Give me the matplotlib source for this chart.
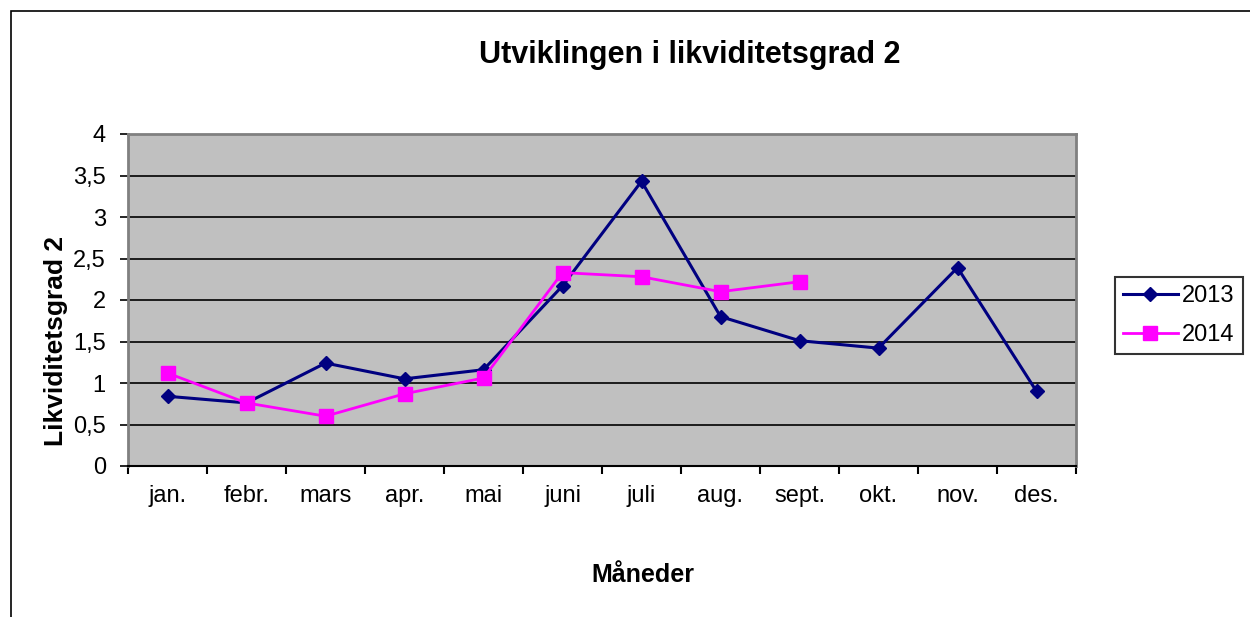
import matplotlib
matplotlib.use('Agg')
import matplotlib.pyplot as plt
from matplotlib.patches import Rectangle

plt.rcParams['font.family'] = ['Liberation Sans', 'DejaVu Sans']

months = ['jan.', 'febr.', 'mars', 'apr.', 'mai', 'juni', 'juli', 'aug.', 'sept.', 'okt.', 'nov.', 'des.']
v2013 = [0.84, 0.76, 1.24, 1.05, 1.16, 2.17, 3.43, 1.80, 1.51, 1.42, 2.39, 0.90]
v2014 = [1.12, 0.76, 0.60, 0.87, 1.06, 2.33, 2.28, 2.10, 2.22]
yticks = [0, 0.5, 1, 1.5, 2, 2.5, 3, 3.5, 4]
ylabels = ['0', '0,5', '1', '1,5', '2', '2,5', '3', '3,5', '4']

fig = plt.figure(figsize=(12.5, 6.17), dpi=100)
# outer chart border (right and bottom edges fall outside the image)
fig.patches.append(Rectangle((11/1250, -0.1), 1.2, 1.1 - 11/617, transform=fig.transFigure,
                             fill=False, edgecolor='black', linewidth=1.2))
ax = fig.add_axes([128/1250, 1 - 466/617, 948/1250, 332/617])
ax.set_facecolor('#C0C0C0')

x = list(range(len(months)))
ax.plot(x, v2013, color='#000080', linewidth=2.2, marker='D', markersize=7.5, label='2013', zorder=3)
ax.plot(x[:len(v2014)], v2014, color='#FF00FF', linewidth=2, marker='s', markersize=10.5, label='2014', zorder=4)

ax.set_xlim(-0.5, 11.5)
ax.set_ylim(0, 4)
ax.set_yticks(yticks)
ax.set_yticklabels(ylabels, fontsize=17)
ax.set_xticks(x)
ax.set_xticklabels(months, fontsize=17)
ax.tick_params(axis='x', length=0, pad=14)
ax.set_xticks([i - 0.5 for i in range(13)], minor=True)
ax.tick_params(axis='x', which='minor', length=6, width=1.5, color='black', direction='out')
ax.tick_params(axis='y', length=6, width=1.2, direction='out', pad=10)
ax.grid(axis='y', color='black', linewidth=1.2)
ax.set_axisbelow(True)
for s in ['left', 'right', 'top']:
    ax.spines[s].set_color('#808080')
    ax.spines[s].set_linewidth(2)
ax.spines['bottom'].set_color('black')
ax.spines['bottom'].set_linewidth(1.5)

fig.text(56/1250, 1 - 341/617, 'Likviditetsgrad 2', fontsize=19, fontweight='bold',
         rotation=90, ha='center', va='center')
fig.text(643/1250, 1 - 575/617, 'Måneder', fontsize=18, fontweight='bold', ha='center', va='center')
fig.text(690/1250, 1 - 55/617, 'Utviklingen i likviditetsgrad 2', fontsize=22, fontweight='bold',
         ha='center', va='center')

leg = fig.legend(loc='upper left', bbox_to_anchor=(1115/1250, 1 - 277/617), fontsize=17,
                 frameon=True, fancybox=False, edgecolor='black', handlelength=2.3,
                 borderaxespad=0, labelspacing=0.7, handletextpad=0.2, borderpad=0.35)
leg.get_frame().set_linewidth(1.5)

fig.savefig('out.png', dpi=100)
